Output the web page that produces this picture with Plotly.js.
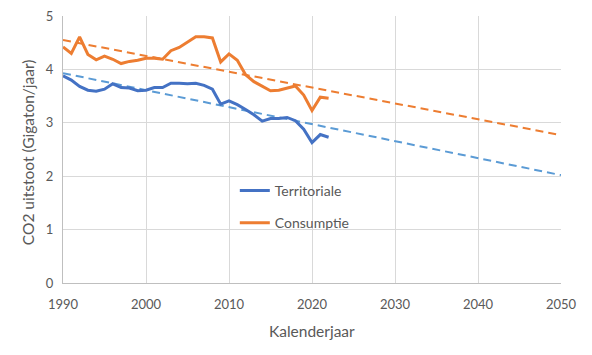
<!DOCTYPE html>
<html>
<head>
<meta charset="utf-8">
<script src="https://cdn.plot.ly/plotly-3.0.1.min.js"></script>
<style>html,body{margin:0;padding:0;background:#fff;}#chart{width:592px;height:355px;}</style>
</head>
<body>
<div id="chart"></div>
<script>
const years = [1990,1991,1992,1993,1994,1995,1996,1997,1998,1999,2000,2001,2002,2003,2004,2005,2006,2007,2008,2009,2010,2011,2012,2013,2014,2015,2016,2017,2018,2019,2020,2021,2022];
const territoriale = [3.88,3.80,3.68,3.61,3.59,3.63,3.73,3.66,3.65,3.60,3.61,3.66,3.66,3.74,3.74,3.73,3.74,3.70,3.63,3.35,3.41,3.34,3.25,3.15,3.03,3.08,3.08,3.10,3.04,2.88,2.63,2.78,2.73];
const consumptie = [4.42,4.30,4.61,4.28,4.18,4.25,4.19,4.11,4.15,4.17,4.21,4.21,4.19,4.35,4.41,4.51,4.61,4.61,4.59,4.14,4.29,4.17,3.90,3.77,3.68,3.60,3.61,3.65,3.69,3.52,3.23,3.48,3.46];
const trendYears = [1990, 2050];
const trendTerritoriale = [3.93, 2.02];
const trendConsumptie = [4.55, 2.77];
const xTicks = [1990,2000,2010,2020,2030,2040,2050];
const yTicks = [0,1,2,3,4,5];
const xTitle = 'Kalenderjaar';
const yTitle = 'CO2 uitstoot (Gigaton/jaar)';

const blue = '#4472C4', orange = '#ED7D31', lightBlue = '#5B9BD5';
const textColor = '#595959';
const font = 'Lato, "Open Sans", sans-serif';

const traces = [
  {x: trendYears, y: trendTerritoriale, mode:'lines', line:{color:lightBlue, width:2, dash:'8px,5px'}, showlegend:false, hoverinfo:'skip'},
  {x: trendYears, y: trendConsumptie, mode:'lines', line:{color:orange, width:2, dash:'8px,5px'}, showlegend:false, hoverinfo:'skip'},
  {x: years, y: territoriale, mode:'lines', name:'Territoriale', legendgroup:'a', line:{color:blue, width:3}},
  {x: years, y: consumptie, mode:'lines', name:'Consumptie', legendgroup:'b', line:{color:orange, width:3}}
];

const layout = {
  width:592, height:355,
  margin:{l:63, r:31, t:16, b:72},
  paper_bgcolor:'#fff', plot_bgcolor:'#fff',
  font:{family:font, color:textColor, size:13},
  showlegend:true,
  legend:{x:0.345, y:0.405, xanchor:'left', yanchor:'top', bgcolor:'rgba(0,0,0,0)', font:{size:14, color:textColor}, tracegroupgap:11},
  xaxis:{range:[1990,2050], tickvals:xTicks, ticks:'', showgrid:true, gridcolor:'#D9D9D9', gridwidth:1, zeroline:false,
         showline:true, linecolor:'#BFBFBF', linewidth:1, tickfont:{size:13, color:textColor}, ticklabelstandoff:9},
  yaxis:{range:[0,5], tickvals:yTicks, ticks:'', showgrid:true, gridcolor:'#D9D9D9', gridwidth:1, zeroline:false,
         showline:true, linecolor:'#BFBFBF', linewidth:1, tickfont:{size:13, color:textColor}, ticklabelstandoff:6},
  annotations:[
    {text:xTitle, xref:'paper', yref:'paper', x:0.5, y:-0.18, xanchor:'center', yanchor:'middle', showarrow:false, font:{size:15.5, color:textColor}},
    {text:yTitle, xref:'paper', yref:'paper', x:-0.0703, y:0.49, xanchor:'center', yanchor:'middle', textangle:-90, showarrow:false, font:{size:15.5, color:textColor}}
  ]
};

Plotly.newPlot('chart', traces, layout, {displayModeBar:false, staticPlot:true});
</script>
</body>
</html>
